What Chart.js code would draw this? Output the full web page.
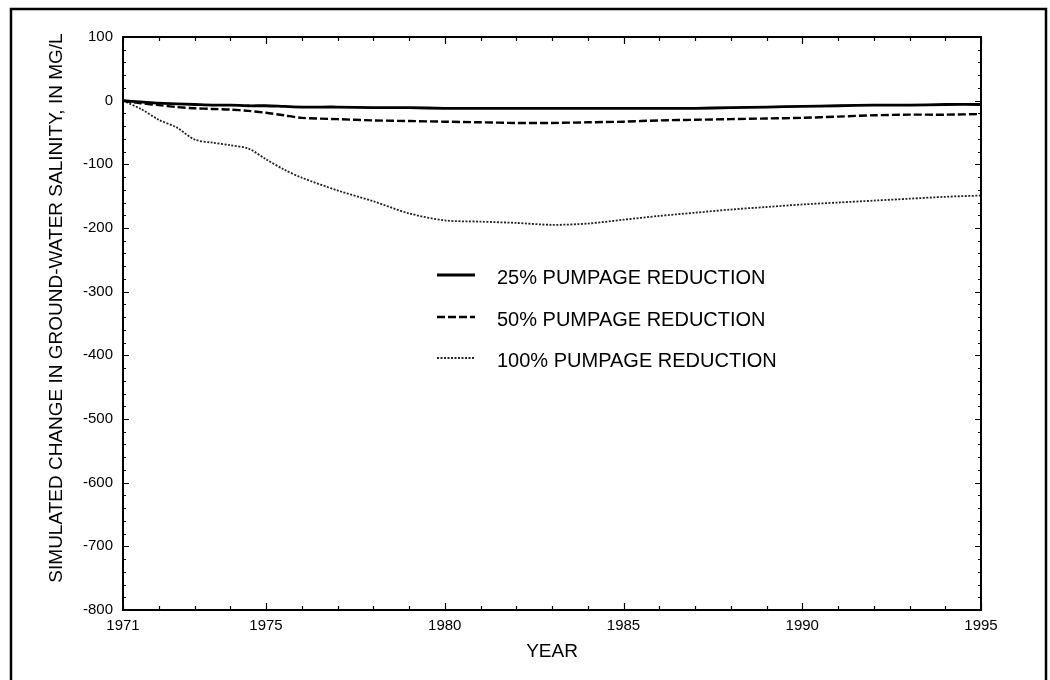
<!DOCTYPE html>
<html>
<head>
<meta charset="utf-8">
<script src="https://cdn.jsdelivr.net/npm/chart.js@4.4.1/dist/chart.umd.min.js"></script>
<style>
  html, body { margin: 0; padding: 0; background: #fff; }
  #wrap { width: 1050px; height: 680px; }
</style>
</head>
<body>
<div id="wrap"><canvas id="salinityChart" width="1050" height="680"></canvas></div>
<script>
// simulated change in salinity (mg/L) for each pumpage-reduction run
const years = [1971, 1971.5, 1972, 1972.5, 1973, 1973.5, 1974, 1974.5, 1975, 1975.5,
  1976, 1977, 1978, 1979, 1980, 1981, 1982, 1983, 1984, 1985, 1986, 1987, 1988,
  1989, 1990, 1991, 1992, 1993, 1994, 1995];
const reduction25 = [0, -2, -4, -5, -6, -7, -7, -8, -8, -9,
  -10, -10, -11, -11, -12, -12, -12, -12, -12, -12, -12, -12, -11,
  -10, -9, -8, -7, -7, -6, -6];
const reduction50 = [0, -4, -7, -10, -12, -13, -14, -16, -19, -23,
  -27, -29, -31, -32, -33, -34, -35, -35, -34, -33, -31, -30, -29,
  -28, -27, -25, -23, -22, -22, -21];
const reduction100 = [0, -13, -30, -42, -61, -66, -70, -75, -92, -108,
  -121, -141, -158, -177, -188, -190, -192, -195, -193, -187, -181, -176, -171,
  -167, -163, -160, -157, -154, -151, -149];
const seriesLabels = ['25% PUMPAGE REDUCTION', '50% PUMPAGE REDUCTION', '100% PUMPAGE REDUCTION'];
const yearTicks = [1971, 1975, 1980, 1985, 1990, 1995];
const yTitle = 'SIMULATED CHANGE IN GROUND-WATER SALINITY, IN MG/L';

const FONT = '"Liberation Sans", Arial, Helvetica, sans-serif';

function toPoints(vals) {
  return years.map((yr, i) => ({ x: yr, y: vals[i] }));
}

// frame, inward tick marks, outer border, y title and the key
const decorations = {
  id: 'decorations',
  beforeDraw(chart) {
    const ctx = chart.ctx;
    ctx.save();
    ctx.fillStyle = '#fff';
    ctx.fillRect(0, 0, chart.width, chart.height);
    ctx.strokeStyle = '#000';
    ctx.lineWidth = 2.5;
    ctx.beginPath();
    ctx.moveTo(11, 690);
    ctx.lineTo(11, 9);
    ctx.lineTo(1046, 9);
    ctx.lineTo(1046, 690);
    ctx.stroke();

    // y axis title, set a little above the plot centre
    ctx.translate(57, 308);
    ctx.rotate(-Math.PI / 2);
    ctx.font = '19px ' + FONT;
    ctx.fillStyle = '#000';
    ctx.textAlign = 'center';
    ctx.textBaseline = 'middle';
    ctx.fillText(yTitle, 0, 0);
    ctx.restore();
  },
  afterDraw(chart) {
    const { ctx, chartArea: a, scales: { x, y } } = chart;
    ctx.save();
    ctx.strokeStyle = '#000';
    ctx.lineWidth = 2;
    ctx.strokeRect(a.left, a.top, a.right - a.left, a.bottom - a.top);

    ctx.lineWidth = 1.2;
    ctx.beginPath();
    for (let yr = 1971; yr <= 1995; yr++) {
      const px = Math.round(x.getPixelForValue(yr)) + 0.5;
      const len = yr % 5 === 0 ? 7 : 4;
      ctx.moveTo(px, a.bottom); ctx.lineTo(px, a.bottom - len);
      ctx.moveTo(px, a.top); ctx.lineTo(px, a.top + len);
    }
    for (let v = -800; v <= 100; v += 20) {
      const py = Math.round(y.getPixelForValue(v)) + 0.5;
      const len = v % 100 === 0 ? 6 : 3;
      ctx.moveTo(a.left, py); ctx.lineTo(a.left + len, py);
      ctx.moveTo(a.right, py); ctx.lineTo(a.right - len, py);
    }
    ctx.stroke();

    // key
    const rows = [275, 317, 358];
    ctx.font = '20px ' + FONT;
    ctx.fillStyle = '#000';
    ctx.textBaseline = 'middle';
    chart.data.datasets.forEach((ds, i) => {
      ctx.beginPath();
      ctx.setLineDash(ds.borderDash || []);
      ctx.lineWidth = ds.borderWidth;
      ctx.strokeStyle = ds.borderColor;
      ctx.moveTo(437, rows[i]);
      ctx.lineTo(475, rows[i]);
      ctx.stroke();
      ctx.setLineDash([]);
      ctx.fillText(ds.label, 497, rows[i] + 3);
    });
    ctx.restore();
  }
};

new Chart(document.getElementById('salinityChart'), {
  type: 'line',
  data: {
    datasets: [
      {
        label: seriesLabels[0],
        data: toPoints(reduction25),
        borderColor: '#000',
        borderWidth: 2.8,
        pointRadius: 0,
        tension: 0.3
      },
      {
        label: seriesLabels[1],
        data: toPoints(reduction50),
        borderColor: '#000',
        borderWidth: 2.4,
        borderDash: [8, 3],
        pointRadius: 0,
        tension: 0.3
      },
      {
        label: seriesLabels[2],
        data: toPoints(reduction100),
        borderColor: '#222',
        borderWidth: 1.8,
        borderDash: [2, 1.5],
        pointRadius: 0,
        tension: 0.3
      }
    ]
  },
  options: {
    responsive: false,
    animation: false,
    layout: { padding: { left: 10, top: 37, right: 69, bottom: 0 } },
    plugins: {
      legend: { display: false },
      tooltip: { enabled: false }
    },
    scales: {
      x: {
        type: 'linear',
        min: 1971,
        max: 1995,
        afterBuildTicks: s => { s.ticks = yearTicks.map(v => ({ value: v })); },
        afterFit: s => { s.height = 70; },
        grid: { display: false, drawTicks: false },
        border: { display: false },
        ticks: {
          color: '#000',
          padding: 7,
          maxRotation: 0,
          font: { family: FONT, size: 15 },
          callback: v => String(v)
        },
        title: {
          display: true,
          text: 'YEAR',
          color: '#000',
          font: { family: FONT, size: 19 },
          padding: { top: 0, bottom: 17 }
        }
      },
      y: {
        min: -800,
        max: 100,
        afterFit: s => { s.width = 113; },
        grid: { display: false, drawTicks: false },
        border: { display: false },
        ticks: {
          color: '#000',
          padding: 10,
          stepSize: 100,
          font: { family: FONT, size: 15 }
        },
        title: { display: false }
      }
    }
  },
  plugins: [decorations]
});
</script>
</body>
</html>
